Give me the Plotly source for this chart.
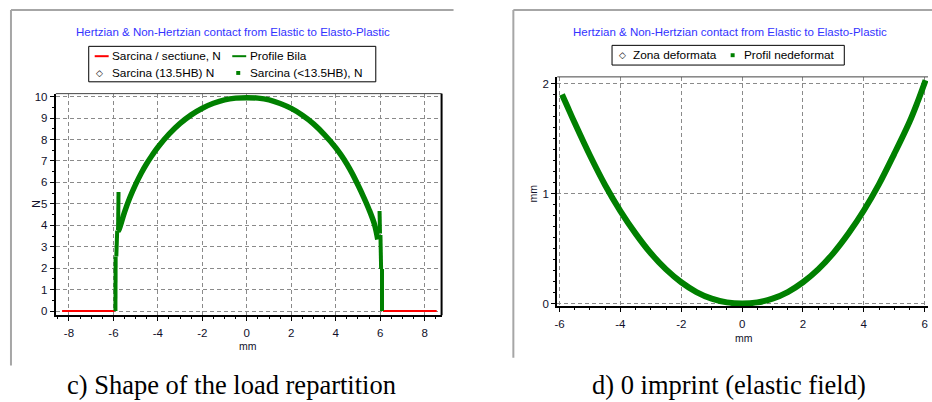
import plotly.graph_objects as go

# ---- left panel: load repartition (N vs mm) ----
load_x = [-5.80, -5.75, -5.5, -5.25, -5.0, -4.75, -4.5, -4.25, -4.0, -3.5, -3.0, -2.5, -2.0,
          -1.5, -1.0, -0.5, 0.0, 0.5, 1.0, 1.5, 2.0, 2.5, 3.0, 3.5, 4.0, 4.25, 4.5, 4.75,
          5.0, 5.25, 5.5, 5.75, 5.89]
load_y = [3.72, 3.80, 4.62, 5.32, 5.91, 6.43, 6.88, 7.28, 7.64, 8.25, 8.75, 9.15, 9.46,
          9.69, 9.85, 9.93, 9.95, 9.93, 9.85, 9.68, 9.45, 9.13, 8.73, 8.22, 7.62, 7.26, 6.86,
          6.40, 5.88, 5.33, 4.73, 4.02, 3.34]

# edges of the contact zone (vertical jumps and spikes)
edge_x = [-5.91, -5.90, None, -5.87, -5.83, None, -5.77, -5.79, None,
          6.08, 6.08, None, 6.04, 6.01, None, 5.97, 5.99]
edge_y = [0.0, 2.55, None, 2.55, 3.75, None, 5.55, 3.80, None,
          0.0, 1.96, None, 1.96, 3.55, None, 4.67, 3.62]

# zero load outside the contact
zero_x = [-8.31, -5.95, None, 6.12, 8.54]
zero_y = [0.0, 0.0, None, 0.0, 0.0]

# ---- right panel: undeformed profile (mm vs mm) ----
prof_x = [-5.92, -5.75, -5.5, -5.0, -4.5, -4.0, -3.5, -3.0, -2.5, -2.0, -1.5, -1.0, -0.5, 0.0,
          0.5, 1.0, 1.5, 2.0, 2.5, 3.0, 3.5, 4.0, 4.5, 5.0, 5.5, 5.75, 6.03]
prof_y = [1.90, 1.795, 1.64, 1.345, 1.075, 0.84, 0.635, 0.456, 0.31, 0.193, 0.104, 0.044, 0.01, 0.0,
          0.01, 0.044, 0.104, 0.193, 0.31, 0.458, 0.638, 0.845, 1.085, 1.36, 1.65, 1.82, 2.03]

left_xticks = [-8, -6, -4, -2, 0, 2, 4, 6, 8]
left_yticks = list(range(0, 11))
right_xticks = [-6, -4, -2, 0, 2, 4, 6]
right_yticks = [0, 1, 2]

TITLE = "Hertzian & Non-Hertzian contact from Elastic to Elasto-Plastic"
GREEN = "#008000"
RED = "#ff0000"
BLUE = "#3333ff"
SANS = "Liberation Sans, Arial, sans-serif"
SERIF = "Liberation Serif, Times New Roman, serif"
W, H = 932, 402


def px(x):
    return x / W


def py(y):
    return 1 - y / H


def labels(vals):
    # plain hyphen for negative numbers
    return [str(v) for v in vals]


fig = go.Figure()

fig.add_trace(go.Scatter(x=zero_x, y=zero_y, mode="lines", name="Sarcina / sectiune, N",
                         line=dict(color=RED, width=2), xaxis="x", yaxis="y",
                         showlegend=False, cliponaxis=False))
fig.add_trace(go.Scatter(x=edge_x, y=edge_y, mode="lines", name="Profile Bila",
                         line=dict(color=GREEN, width=4), xaxis="x", yaxis="y",
                         showlegend=False, cliponaxis=False))
fig.add_trace(go.Scatter(x=load_x, y=load_y, mode="lines", name="Sarcina (<13.5HB), N",
                         line=dict(color=GREEN, width=5.5, shape="spline"),
                         xaxis="x", yaxis="y", showlegend=False, cliponaxis=False))
fig.add_trace(go.Scatter(x=prof_x, y=prof_y, mode="lines", name="Profil nedeformat",
                         line=dict(color=GREEN, width=6, shape="spline"),
                         xaxis="x2", yaxis="y2", showlegend=False, cliponaxis=False))

axis_common = dict(
    showgrid=True, gridcolor="#8a8a8a", gridwidth=1, griddash="4px,3px",
    zeroline=False, showline=True, linecolor="#000000", linewidth=2,
    ticks="outside", ticklen=4, tickwidth=1, tickcolor="#000000",
    tickfont=dict(family=SANS, size=11.5, color="#10102a"),
)
minor_x = dict(dtick=0.5, ticklen=2, tickcolor="#000", ticks="outside")

fig.update_layout(
    width=W, height=H, margin=dict(l=0, r=0, t=0, b=0),
    paper_bgcolor="white", plot_bgcolor="white", showlegend=False,
    xaxis=dict(domain=[px(53), px(440)], range=[-8.59, 8.76], anchor="y",
               tickvals=left_xticks, ticktext=labels(left_xticks), minor=minor_x,
               ticklabelstandoff=2, **axis_common),
    yaxis=dict(domain=[py(316.7), py(92)], range=[-0.18, 10.14], anchor="x",
               tickvals=left_yticks, ticktext=labels(left_yticks),
               minor=dict(dtick=0.5, ticklen=2, tickcolor="#000", ticks="outside"),
               **axis_common),
    xaxis2=dict(domain=[px(556), px(928)], range=[-6.077, 6.11], anchor="y2",
                tickvals=right_xticks, ticktext=labels(right_xticks), minor=minor_x,
                ticklabelstandoff=2, **axis_common),
    yaxis2=dict(domain=[py(307.7), py(75)], range=[-0.024, 2.06], anchor="x2",
                tickvals=right_yticks, ticktext=labels(right_yticks),
                minor=dict(dtick=0.1, ticklen=2, tickcolor="#000", ticks="outside"),
                **axis_common),
)

shapes = []
ann = []


def line(x0, y0, x1, y1, color, width):
    shapes.append(dict(type="line", xref="paper", yref="paper",
                       x0=px(x0), y0=py(y0), x1=px(x1), y1=py(y1),
                       line=dict(color=color, width=width)))


def text(x, y, s, size=11, color="#000000", family=SANS, xanchor="left", angle=0):
    ann.append(dict(xref="paper", yref="paper", x=px(x), y=py(y), text=s,
                    showarrow=False, xanchor=xanchor, yanchor="middle", textangle=angle,
                    borderpad=0, font=dict(family=family, size=size, color=color)))


# panel frames
line(8, 7, 452, 7, "#a6a6a6", 2)
line(8, 7, 8, 368, "#a6a6a6", 2)
line(512, 7, 932, 7, "#a6a6a6", 2)
line(512, 7, 512, 360, "#a6a6a6", 2)

# plot box top / right edges
line(53, 92, 440, 92, "#444444", 1)
line(440, 92, 440, 317, "#000000", 2)
line(556, 75, 928, 75, "#444444", 1)

# titles
text(231, 29, TITLE, size=11.5, color=BLUE, xanchor="center")
text(729, 29, TITLE, size=11.5, color=BLUE, xanchor="center")

# left legend
shapes.append(dict(type="rect", xref="paper", yref="paper", x0=px(86), x1=px(374),
                   y0=py(80), y1=py(44), line=dict(color="#000000", width=1)))
line(92, 54, 106, 54, RED, 2)
text(108, 54, "Sarcina / sectiune, N", size=11.8)
line(230, 54, 244, 54, GREEN, 2)
text(247, 54, "Profile Bila", size=11.8)
text(97, 71, "◇", size=9, xanchor="center")
text(108, 71, "Sarcina (13.5HB) N", size=11.8)
shapes.append(dict(type="rect", xref="paper", yref="paper", x0=px(234), x1=px(238),
                   y0=py(73), y1=py(69), line=dict(width=0), fillcolor=GREEN))
text(247, 71, "Sarcina (<13.5HB), N", size=11.8)

# right legend
shapes.append(dict(type="rect", xref="paper", yref="paper", x0=px(611), x1=px(844),
                   y0=py(63), y1=py(43), line=dict(color="#000000", width=1)))
text(622, 53, "◇", size=9, xanchor="center")
text(631, 53, "Zona deformata", size=11.8)
shapes.append(dict(type="rect", xref="paper", yref="paper", x0=px(730), x1=px(734),
                   y0=py(55), y1=py(51), line=dict(width=0), fillcolor=GREEN))
text(742, 53, "Profil nedeformat", size=11.8)

# axis titles
text(246, 348, "mm", size=10.5, xanchor="center", color="#10102a")
text(33, 204, "N", size=10.5, xanchor="center", angle=-90, color="#10102a")
text(743, 340, "mm", size=10.5, xanchor="center", color="#10102a")
text(532, 193, "mm", size=10.5, xanchor="center", angle=-90, color="#10102a")

# captions
text(229, 388, "c) Shape of the load repartition", size=26.5, family=SERIF, xanchor="center")
text(728, 388, "d) 0 imprint (elastic field)", size=26.5, family=SERIF, xanchor="center")

fig.update_layout(shapes=shapes, annotations=ann)
fig.write_html("out.html")
